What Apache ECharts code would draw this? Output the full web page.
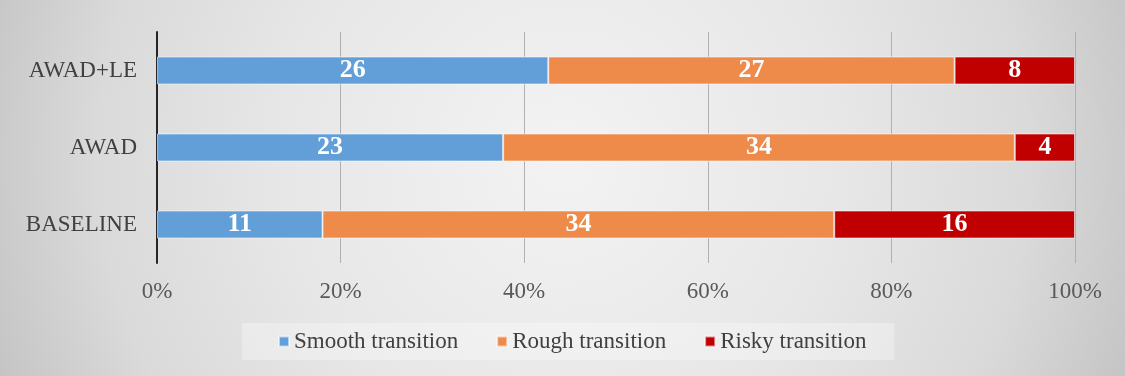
<!DOCTYPE html>
<html>
<head>
<meta charset="utf-8">
<script src="https://cdn.jsdelivr.net/npm/echarts@6/dist/echarts.min.js"></script>
<style>
html,body{margin:0;padding:0;}
#chart{width:1125px;height:376px;}
</style>
</head>
<body>
<div id="chart"></div>
<script>
const categories = ['BASELINE', 'AWAD', 'AWAD+LE'];
const seriesNames = ['Smooth transition', 'Rough transition', 'Risky transition'];
const smooth = [11, 23, 26];
const rough = [34, 34, 27];
const risky = [16, 4, 8];
const xTicks = [0, 20, 40, 60, 80, 100];
const colors = ['#629fd8', '#ee8b4b', '#c00000'];

const counts = [smooth, rough, risky];
const totals = categories.map((c, i) => smooth[i] + rough[i] + risky[i]);
const FONT = '"Liberation Serif", "Times New Roman", serif';

const chart = echarts.init(document.getElementById('chart'));
chart.setOption({
  backgroundColor: {
    type: 'radial', x: 0.5, y: 0.42, r: 1.65,
    colorStops: [
      { offset: 0, color: '#f3f3f3' },
      { offset: 0.45, color: '#e7e7e7' },
      { offset: 0.75, color: '#dadada' },
      { offset: 1, color: '#c2c2c2' }
    ]
  },
  animation: false,
  grid: { left: 157, right: 50, top: 32, bottom: 113, containLabel: false },
  xAxis: {
    type: 'value', min: 0, max: 100, interval: 20,
    axisLine: { show: false },
    axisTick: { show: false },
    splitLine: { show: true, lineStyle: { color: '#b0b0b0', width: 1 } },
    axisLabel: {
      formatter: v => v + '%',
      fontFamily: FONT, fontSize: 23, color: '#595959', margin: 17
    }
  },
  yAxis: {
    type: 'category', data: categories,
    axisLine: { show: true, lineStyle: { color: '#262626', width: 2 } },
    axisTick: { show: false },
    axisLabel: { fontFamily: FONT, fontSize: 23, color: '#404040', margin: 20 }
  },
  legend: {
    data: seriesNames,
    bottom: 16,
    left: 242,
    itemWidth: 10, itemHeight: 10,
    itemGap: 38,
    padding: [7, 28, 7, 36],
    backgroundColor: 'rgba(255,255,255,0.3)',
    icon: 'rect',
    textStyle: { fontFamily: FONT, fontSize: 23, color: '#404040' }
  },
  series: seriesNames.map((name, s) => ({
    name: name,
    type: 'bar',
    stack: 'total',
    barWidth: 28,
    itemStyle: { color: colors[s], borderColor: 'rgba(255,255,255,0.55)', borderWidth: 1 },
    label: {
      show: true, position: 'inside',
      formatter: p => String(counts[s][p.dataIndex]),
      fontFamily: FONT, fontSize: 26, fontWeight: 'bold', color: '#ffffff'
    },
    data: counts[s].map((v, i) => v / totals[i] * 100)
  }))
});
</script>
</body>
</html>
